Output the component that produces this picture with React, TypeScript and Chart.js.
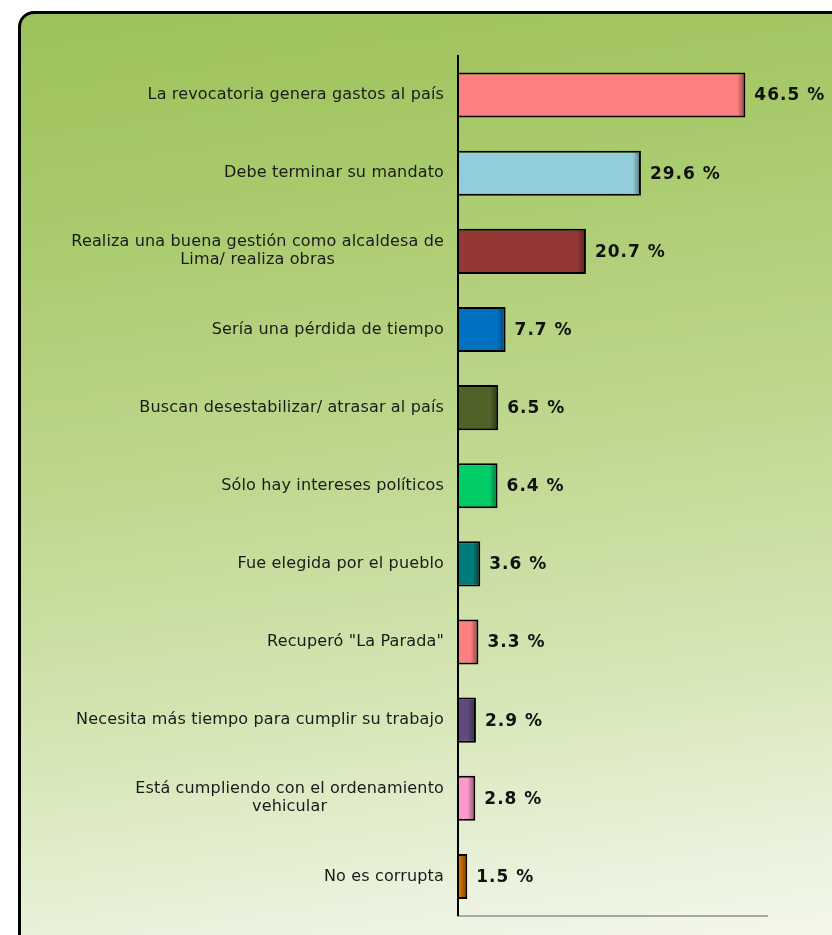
import React, { useEffect, useRef } from "react";
import { Chart, registerables } from "chart.js";

Chart.register(...registerables);

const categories: string[][] = [
  ["La revocatoria genera gastos al país"],
  ["Debe terminar su mandato"],
  ["Realiza una buena gestión como alcaldesa de", "Lima/ realiza obras"],
  ["Sería una pérdida de tiempo"],
  ["Buscan desestabilizar/ atrasar al país"],
  ["Sólo hay intereses políticos"],
  ["Fue elegida por el pueblo"],
  ["Recuperó \"La Parada\""],
  ["Necesita más tiempo para cumplir su trabajo"],
  ["Está cumpliendo con el ordenamiento", "vehicular"],
  ["No es corrupta"],
];

const values: number[] = [46.5, 29.6, 20.7, 7.7, 6.5, 6.4, 3.6, 3.3, 2.9, 2.8, 1.5];

const barColors: string[] = [
  "#FF7F7F",
  "#92CDDC",
  "#953735",
  "#0070C0",
  "#4F6228",
  "#00CC66",
  "#007B7B",
  "#FF7F7F",
  "#5F4A7B",
  "#FF99CC",
  "#DC7800",
];

const xMax = 50;

const labelPlugin = {
  id: "customLabels",
  afterDatasetsDraw(chart: any) {
    const ctx = chart.ctx;
    const meta = chart.getDatasetMeta(0);
    const yScale = chart.scales.y;
    // bar edge shading
    meta.data.forEach((el: any) => {
      const p = el.getProps(["x", "y", "base", "height"], true);
      const right = p.x - 2;
      const top = p.y - p.height / 2 + 2;
      const h = p.height - 4;
      const w = Math.min(6, right - p.base - 1);
      if (w > 0) {
        const g = ctx.createLinearGradient(right - w, 0, right, 0);
        g.addColorStop(0, "rgba(0,0,0,0)");
        g.addColorStop(1, "rgba(0,0,0,0.35)");
        ctx.save();
        ctx.fillStyle = g;
        ctx.fillRect(right - w, top, w, h);
        ctx.restore();
      }
    });
    // value labels
    ctx.save();
    ctx.font = "bold 17px 'DejaVu Sans', Verdana, sans-serif";
    (ctx as any).letterSpacing = "1px";
    ctx.fillStyle = "#111";
    ctx.textAlign = "left";
    ctx.textBaseline = "middle";
    meta.data.forEach((el: any, i: number) => {
      const p = el.getProps(["x", "y"], true);
      ctx.fillText(values[i].toFixed(1) + " %", p.x + 9, p.y + 1);
    });
    ctx.restore();
    // category labels
    ctx.save();
    ctx.font = "16px 'DejaVu Sans', Verdana, sans-serif";
    (ctx as any).letterSpacing = "0.15px";
    ctx.fillStyle = "#1a1a1a";
    ctx.textAlign = "center";
    ctx.textBaseline = "middle";
    const rightEdge = 444;
    const lineH = 18;
    categories.forEach((lines, i) => {
      const cy = yScale.getPixelForValue(i);
      const maxW = Math.max(...lines.map((l) => ctx.measureText(l).width));
      const cx = rightEdge - maxW / 2;
      const startY = cy - ((lines.length - 1) * lineH) / 2;
      lines.forEach((l, j) => {
        ctx.fillText(l, cx, startY + j * lineH);
      });
    });
    ctx.restore();
  },
};

export default function App() {
  const canvasRef = useRef<HTMLCanvasElement | null>(null);

  useEffect(() => {
    if (!canvasRef.current) return;
    const chart = new Chart(canvasRef.current, {
      type: "bar",
      data: {
        labels: categories.map((c) => c.join(" ")),
        datasets: [
          {
            data: values,
            backgroundColor: barColors,
            borderColor: "#000",
            borderWidth: 2,
            barPercentage: 0.577,
            categoryPercentage: 1,
          },
        ],
      },
      options: {
        indexAxis: "y",
        animation: false,
        responsive: true,
        maintainAspectRatio: false,
        layout: { padding: { left: 20, right: 65, top: 56, bottom: 0 } },
        plugins: {
          legend: { display: false },
          tooltip: { enabled: false },
        },
        scales: {
          x: {
            min: 0,
            max: xMax,
            grid: { display: false },
            ticks: { display: false },
            border: { display: true, color: "#A8A8A8", width: 2, z: 1 },
            afterFit: (s: any) => {
              s.height = 19.5;
            },
          },
          y: {
            grid: { display: false },
            ticks: { display: false },
            border: { display: true, color: "#000", width: 2, z: 1 },
            afterFit: (s: any) => {
              s.width = 438;
            },
          },
        },
      },
      plugins: [labelPlugin],
    });
    return () => chart.destroy();
  }, []);

  return (
    <div
      style={{
        position: "fixed",
        left: 0,
        top: 0,
        width: 832,
        height: 935,
        overflow: "hidden",
        background: "#fff",
      }}
    >
      <div
        style={{
          position: "absolute",
          left: 18,
          top: 11,
          width: 840,
          height: 950,
          border: "3px solid #000",
          borderRadius: 16,
          background:
            "linear-gradient(172deg, #9DC25A 0%, #A9CA6C 20%, #BDD78D 45%, #D6E6B6 70%, #EBF2DD 88%, #F6F9EF 100%)",
        }}
      />
      <div style={{ position: "absolute", left: 0, top: 0, width: 832, height: 935 }}>
        <canvas ref={canvasRef} />
      </div>
    </div>
  );
}
